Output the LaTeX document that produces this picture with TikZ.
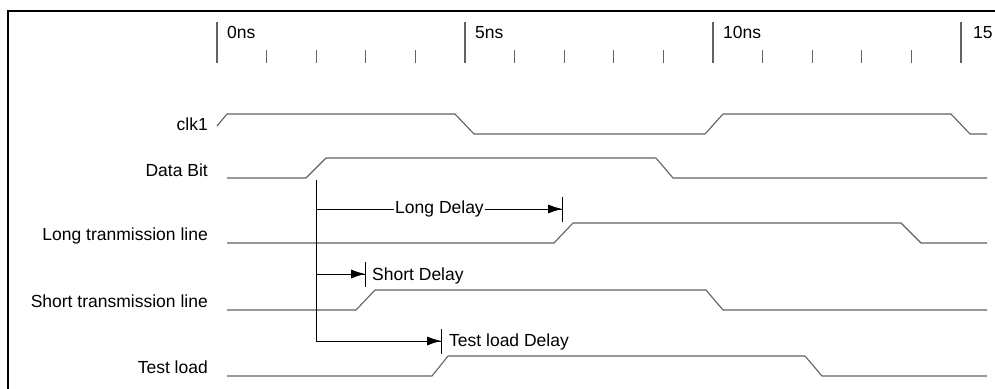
\documentclass[tikz,border=0pt]{standalone}
\usepackage{fontspec}
\setmainfont{Liberation Sans}
\usetikzlibrary{arrows.meta,positioning}

\begin{document}
\begin{tikzpicture}[x=1pt,y=-1pt,
    every node/.style={inner sep=0pt,font=\fontsize{17.5}{21}\selectfont},
    signame/.style={anchor=base east},
    lbl/.style={anchor=base west},
    wave/.style={draw=black!62,line width=1.1pt,line join=round},
    tickmark/.style={draw=black!62,line width=1.1pt},
    delay/.style={draw,line width=0.8pt,-{Latex[length=14pt,width=9pt,sep=0pt]Bar[width=25pt]}},
    descr/.style={fill=white,inner xsep=1pt,inner ysep=3pt}]
  \useasboundingbox (0,0) rectangle (995,388);
  \clip (0,0) rectangle (995,388);
  \draw[line width=1.6pt] (8,11) rectangle (1010,400);

  % time scale
  \foreach \t [count=\i from 0] in {0,5,10}
    \node[lbl] (t\t) at (227+248*\i,38) {\t ns};
  \node[lbl] (t15) at (973,38) {15};
  \foreach \i in {0,...,3}
    \draw[tickmark] (217+248*\i,22) -- (217+248*\i,63);
  \foreach \x in {1,2,3,4,6,7,8,9,11,12,13,14}
    \draw[tickmark] (217+49.6*\x,50) -- (217+49.6*\x,63);

  % signal names
  \node[signame] (clk)   at (208,130) {clk1};
  \node[signame] (data)  at (208,176) {Data Bit};
  \node[signame] (long)  at (208,240) {Long tranmission line};
  \node[signame] (short) at (208,307) {Short transmission line};
  \node[signame] (test)  at (208,373) {Test load};

  % waveforms
  \draw[wave] (217,126) -- (227,114) -- (455,114) -- (474,134) -- (705,134)
    -- (723,114) -- (951,114) -- (970,134) -- (987,134);
  \draw[wave] (227,178) -- (306,178) -- (326,158) -- (656,158) -- (673,178) -- (987,178);
  \draw[wave] (227,243) -- (554,243) -- (573,223) -- (901,223) -- (921,243) -- (987,243);
  \draw[wave] (227,310) -- (356,310) -- (375,290) -- (706,290) -- (723,310) -- (987,310);
  \draw[wave] (227,376) -- (432,376) -- (448,356) -- (805,356) -- (822,376) -- (987,376);

  % delay markers
  \coordinate (mk)  at (316,180);
  \coordinate (mkL) at (316,209);
  \coordinate (mkS) at (316,274);
  \coordinate (mkT) at (316,341);
  \coordinate (eL)  at (563,209);
  \coordinate (eS)  at (366,274);
  \coordinate (eT)  at (442,341);
  \draw[line width=0.8pt] (mk) -- (mkT);
  \draw[delay] (mkL) -- node[descr] (ldly) {Long Delay} (eL);
  \draw[delay] (mkS) -- (eS);
  \draw[delay] (mkT) -- (eT);
  \node[lbl] (sdly) at (372,280) {Short Delay};
  \node[lbl] (tdly) at (449,346) {Test load Delay};
\end{tikzpicture}
\end{document}
